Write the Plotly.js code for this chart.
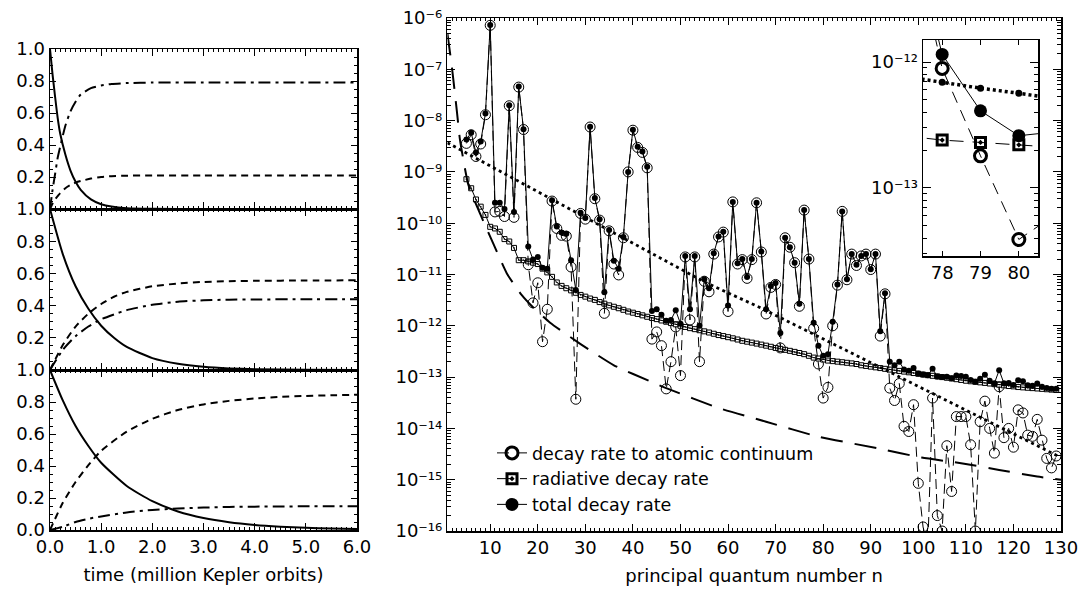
<!DOCTYPE html>
<html><head><meta charset="utf-8">
<script src="https://cdn.plot.ly/plotly-3.0.1.min.js"></script>
<style>html,body{margin:0;padding:0;background:#fff}#chart{width:1078px;height:590px}</style>
</head><body><div id="chart"></div>
<script>
// ---------- left panels: populations vs time (million Kepler orbits) ----------
const tTop = [0,0.05,0.1,0.15,0.2,0.3,0.4,0.5,0.6,0.8,1.0,1.2,1.5,2.0,3.0,4.0,6.0];
const solidTop = [1,0.84,0.70,0.57,0.47,0.34,0.24,0.17,0.12,0.06,0.03,0.015,0.005,0.001,0,0,0];
const dashTop = [0,0.035,0.06,0.08,0.10,0.13,0.15,0.165,0.175,0.19,0.2,0.205,0.208,0.21,0.21,0.21,0.21];
const dashdotTop = [0,0.12,0.22,0.32,0.39,0.52,0.61,0.67,0.715,0.755,0.772,0.781,0.787,0.79,0.791,0.791,0.791];

const tMid = [0,0.25,0.5,0.75,1,1.25,1.5,2,2.5,3,3.5,4,5,6];
const solidMid = [1,0.72,0.52,0.38,0.275,0.2,0.143,0.074,0.039,0.02,0.01,0.005,0.001,0];
const dashMid = [0,0.155,0.27,0.35,0.41,0.455,0.485,0.52,0.537,0.547,0.552,0.554,0.556,0.557];
const dashdotMid = [0,0.125,0.21,0.27,0.315,0.345,0.372,0.405,0.424,0.433,0.437,0.438,0.44,0.44];

const tBot = [0,0.25,0.5,0.75,1,1.5,2,2.5,3,3.5,4,4.5,5,5.5,6];
const solidBot = [1,0.81,0.65,0.525,0.42,0.275,0.18,0.116,0.075,0.049,0.032,0.021,0.0135,0.009,0.006];
const dashBot = [0,0.17,0.30,0.405,0.495,0.615,0.695,0.75,0.785,0.807,0.822,0.832,0.838,0.842,0.845];
const dashdotBot = [0,0.02,0.05,0.07,0.085,0.11,0.125,0.134,0.14,0.144,0.146,0.147,0.148,0.149,0.149];

// ---------- right panel: decay rates vs principal quantum number n ----------
const nVals = [];
for (let k = 5; k <= 129; k++) nVals.push(k);

const continuumRate = [
 3.6e-9,5.3e-9,2.0e-9,3.5e-9,1.3e-8,7.2e-7,1.66e-10,1.7e-10,1.35e-10,1.95e-8,       // 5-14
 1.3e-10,4.5e-8,6.7e-9,1.55e-11,2.8e-12,6.9e-12,4.9e-13,2.1e-12,2.7e-10,7.9e-11,      // 15-24
 5.8e-11,5.6e-11,1.4e-11,3.7e-14,1.55e-10,1.2e-10,7.5e-9,3.0e-10,1.15e-10,1.75e-12,   // 25-34
 7.1e-11,1.6e-11,9.8e-12,5.2e-11,1.0e-9,6.5e-9,3.0e-9,2.4e-9,1.2e-9,5.5e-13,          // 35-44
 7.6e-13,4.1e-13,5.9e-14,2.0e-13,9.5e-13,1.07e-13,2.2e-11,1.3e-12,2.2e-11,2.0e-13,    // 45-54
 7.4e-12,4.6e-12,2.5e-11,5.4e-11,6.7e-11,1.9e-12,2.6e-10,1.6e-11,1.95e-11,8.4e-12,    // 55-64
 1.95e-11,2.5e-10,2.75e-11,1.7e-12,5.6e-12,6.4e-12,3.7e-13,5.2e-11,3.4e-11,1.7e-11,   // 65-74
 2.4e-12,1.8e-10,2.0e-11,8.9e-13,1.8e-13,3.9e-14,6.3e-14,1.0e-12,6.2e-12,1.7e-10,     // 75-84
 7.9e-12,2.5e-11,1.5e-11,2.3e-11,2.5e-11,1.25e-11,2.5e-11,6.3e-13,4.2e-12,6.1e-14,    // 85-94
 3.5e-14,7.5e-14,1.1e-14,8.7e-15,2.9e-14,8.5e-16,1.2e-16,5e-17,3.9e-14,2e-16,         // 95-104
 1e-16,4.6e-15,5.9e-16,1.7e-14,1.7e-14,1.7e-14,4.8e-15,1e-16,1.35e-14,3.4e-14,        // 105-114
 1e-14,3.3e-15,6.5e-14,6.6e-15,1e-14,4.3e-15,2.3e-14,2.0e-14,7.4e-15,7e-15,           // 115-124
 1.5e-14,5.9e-15,2.6e-15,1.7e-15,2.9e-15];                                            // 125-129

const radiativeRate = [
 7.2e-10,4.8e-10,2.9e-10,2.1e-10,1.45e-10,8.5e-11,7.9e-11,6.8e-11,4.9e-11,4.4e-11,
 3.3e-11,1.9e-11,1.9e-11,1.8e-11,1.7e-11,1.6e-11,1.3e-11,1.1e-11,9e-12,7e-12,
 6e-12,5.4e-12,4.9e-12,4.4e-12,4e-12,3.7e-12,3.4e-12,3.2e-12,2.9e-12,2.7e-12,
 2.5e-12,2.35e-12,2.2e-12,2.05e-12,1.9e-12,1.8e-12,1.7e-12,1.6e-12,1.5e-12,1.42e-12,
 1.35e-12,1.27e-12,1.2e-12,1.13e-12,1.07e-12,1.0e-12,9.5e-13,9e-13,8.6e-13,8.2e-13,
 7.8e-13,7.4e-13,7e-13,6.6e-13,6.3e-13,6e-13,5.7e-13,5.4e-13,5.1e-13,4.9e-13,
 4.7e-13,4.5e-13,4.3e-13,4.1e-13,3.9e-13,3.7e-13,3.55e-13,3.4e-13,3.25e-13,3.1e-13,
 2.95e-13,2.8e-13,2.6e-13,2.4e-13,2.3e-13,2.2e-13,2.1e-13,2.05e-13,2e-13,1.95e-13,
 1.9e-13,1.85e-13,1.8e-13,1.7e-13,1.65e-13,1.6e-13,1.55e-13,1.5e-13,1.45e-13,1.4e-13,
 1.36e-13,1.32e-13,1.28e-13,1.24e-13,1.2e-13,1.16e-13,1.12e-13,1.09e-13,1.06e-13,1.03e-13,
 1.0e-13,9.7e-14,9.4e-14,9.1e-14,8.8e-14,8.5e-14,8.3e-14,8.1e-14,7.9e-14,7.7e-14,
 7.5e-14,7.3e-14,7.1e-14,6.9e-14,6.7e-14,6.6e-14,6.4e-14,6.3e-14,6.2e-14,6.1e-14,
 6e-14,5.9e-14,5.8e-14,5.7e-14,5.6e-14];

const totalRate = [
 4.3e-9,5.8e-9,2.4e-9,3.9e-9,1.38e-8,7.3e-7,2.5e-10,2.5e-10,1.9e-10,2.0e-8,
 1.66e-10,4.6e-8,6.8e-9,3.5e-11,1.95e-11,2.2e-11,1.35e-11,1.3e-11,2.8e-10,8.6e-11,
 6.6e-11,6.2e-11,1.9e-11,5.0e-12,1.6e-10,1.26e-10,7.6e-9,3.1e-10,1.2e-10,4.5e-12,
 7.4e-11,1.86e-11,1.3e-11,5.4e-11,1.0e-9,6.6e-9,3.1e-9,2.5e-9,1.26e-9,1.95e-12,
 2.1e-12,1.65e-12,1.25e-12,1.3e-12,2.0e-12,1.1e-12,2.3e-11,2.1e-12,2.3e-11,1.0e-12,
 8.1e-12,5.4e-12,2.6e-11,5.5e-11,6.8e-11,2.5e-12,2.6e-10,1.66e-11,2.0e-11,8.9e-12,
 2.0e-11,2.5e-10,2.8e-11,2.1e-12,6.0e-12,6.8e-12,7.2e-13,5.2e-11,3.4e-11,1.7e-11,
 2.7e-12,1.8e-10,2.0e-11,1.15e-12,4.1e-13,2.6e-13,2.8e-13,1.2e-12,6.4e-12,1.7e-10,
 8.1e-12,2.5e-11,1.55e-11,2.3e-11,2.5e-11,1.26e-11,2.5e-11,7.8e-13,4.3e-12,2.0e-13,
 1.7e-13,2.0e-13,1.4e-13,1.33e-13,1.5e-13,1.17e-13,1.12e-13,1.09e-13,1.45e-13,1.03e-13,
 1.0e-13,1.02e-13,9.5e-14,1.08e-13,1.05e-13,1.02e-13,8.8e-14,8.1e-14,9.3e-14,1.11e-13,
 8.5e-14,7.6e-14,1.36e-13,7.6e-14,7.7e-14,7.0e-14,8.7e-14,8.3e-14,6.9e-14,6.8e-14,
 7.5e-14,6.5e-14,6.1e-14,5.9e-14,5.9e-14];

// dotted fit line
const dottedN = [1,41,55,67,79,92,119,130];
const dottedRate = [3.7e-9,3.6e-11,7.2e-12,2.2e-12,6.2e-13,1.55e-13,8.7e-15,2.7e-15];
// long-dashed curve
const longDashN = [1,2,3,3.65,5.4,7.85,10.65,13.5,16.6,19,22.6,29,36,44,47,58,68,79,92,100.7,109,117,125,130];
const longDashRate = [5e-7,1e-7,1.5e-8,4.2e-9,5.6e-10,1.55e-10,4e-11,1.05e-11,4e-12,2.3e-12,1.15e-12,4.4e-13,1.7e-13,8e-14,6.1e-14,2.5e-14,1.35e-14,6.9e-15,4e-15,2.7e-15,2.1e-15,1.55e-15,1.15e-15,1e-15];

// inset (n = 77..81)
const insetN = [77,78,79,80,81];
const insetDotted = [7.7e-13,6.9e-13,6.2e-13,5.65e-13,5.1e-13];

const xTicksMain = [10,20,30,40,50,60,70,80,90,100,110,120,130];
const yDecades = [-16,-15,-14,-13,-12,-11,-10,-9,-8,-7,-6];

// ---------- build ----------
const SUP = {'-':'\u207B','0':'\u2070','1':'\u00B9','2':'\u00B2','3':'\u00B3','4':'\u2074','5':'\u2075','6':'\u2076','7':'\u2077','8':'\u2078','9':'\u2079'};
const powLabel = e => '10' + String(e).split('').map(c => SUP[c]).join('');

const i0 = nVals.indexOf(77), i1 = nVals.indexOf(81) + 1;
const insCont = continuumRate.slice(i0, i1);
const insRad = radiativeRate.slice(i0, i1);
const insTot = totalRate.slice(i0, i1);

const K = '#000';
const FONT = {family: 'DejaVu Sans, sans-serif', size: 18, color: K};
const LFONT = {family: 'DejaVu Sans, sans-serif', size: 17.5, color: K};
const DASH = '7px,5px';
const DASHDOT = '12px,5px,3px,5px';

function leftSet(t, s, d, dd, ax) {
  return [
    {x: t, y: s, xaxis: 'x' + ax, yaxis: 'y' + ax, mode: 'lines', line: {color: K, width: 2, shape: 'spline', smoothing: 0.6}, showlegend: false, hoverinfo: 'skip'},
    {x: t, y: d, xaxis: 'x' + ax, yaxis: 'y' + ax, mode: 'lines', line: {color: K, width: 2, dash: DASH, shape: 'spline', smoothing: 0.6}, showlegend: false, hoverinfo: 'skip'},
    {x: t, y: dd, xaxis: 'x' + ax, yaxis: 'y' + ax, mode: 'lines', line: {color: K, width: 2, dash: DASHDOT, shape: 'spline', smoothing: 0.6}, showlegend: false, hoverinfo: 'skip'}
  ];
}

const traces = [].concat(
  leftSet(tTop, solidTop, dashTop, dashdotTop, ''),
  leftSet(tMid, solidMid, dashMid, dashdotMid, '2'),
  leftSet(tBot, solidBot, dashBot, dashdotBot, '3'),
  [
    {x: longDashN, y: longDashRate, xaxis: 'x4', yaxis: 'y4', mode: 'lines', line: {color: K, width: 2, dash: '22px,12px', shape: 'spline', smoothing: 0.5}, showlegend: false},
    {x: dottedN, y: dottedRate, xaxis: 'x4', yaxis: 'y4', mode: 'lines', line: {color: K, width: 2.8, dash: '3px,3.5px'}, showlegend: false},
    {x: nVals, y: continuumRate, xaxis: 'x4', yaxis: 'y4', mode: 'lines+markers', name: 'decay rate to atomic continuum',
     line: {color: K, width: 1, dash: '10px,5px'}, marker: {symbol: 'circle-open', size: 10, color: K, line: {width: 1}}, showlegend: false},
    {x: nVals, y: radiativeRate, xaxis: 'x4', yaxis: 'y4', mode: 'lines+markers', name: 'radiative decay rate',
     line: {color: K, width: 1}, marker: {symbol: 'square-open-dot', size: 5, color: K, line: {width: 1}}, showlegend: false},
    {x: nVals, y: totalRate, xaxis: 'x4', yaxis: 'y4', mode: 'lines+markers', name: 'total decay rate',
     line: {color: K, width: 1}, marker: {symbol: 'circle', size: 6, color: K}, showlegend: false},
    // inset
    {x: insetN, y: insetDotted, xaxis: 'x5', yaxis: 'y5', mode: 'lines+markers', line: {color: K, width: 3.5, dash: '3px,3px'}, marker: {symbol: 'circle', size: 7, color: K}, showlegend: false},
    {x: insetN, y: insCont, xaxis: 'x5', yaxis: 'y5', mode: 'lines+markers', name: 'decay rate to atomic continuum',
     line: {color: K, width: 1, dash: '12px,8px'}, marker: {symbol: 'circle-open', size: 12, color: K, line: {width: 3}}},
    {x: insetN, y: insRad, xaxis: 'x5', yaxis: 'y5', mode: 'lines+markers', name: 'radiative decay rate',
     line: {color: K, width: 1, dash: '14px,9px'}, marker: {symbol: 'square-open-dot', size: 10, color: K, line: {width: 3}}},
    {x: insetN, y: insTot, xaxis: 'x5', yaxis: 'y5', mode: 'lines+markers', name: 'total decay rate',
     line: {color: K, width: 1}, marker: {symbol: 'circle', size: 13, color: K}}
  ]
);

const W = 1078, H = 590;
const px = v => v / W, py = v => 1 - v / H;

function axBase(extra) {
  return Object.assign({showline: true, linecolor: K, linewidth: 1.5, mirror: 'ticks', ticks: 'inside', tickcolor: K, tickwidth: 1,
    showgrid: false, zeroline: false, fixedrange: true, tickfont: FONT, automargin: false, ticklabeloverflow: 'allow'}, extra);
}
const leftX = [px(50), px(357)];
const leftXTicks = [0,1,2,3,4,5,6];
function leftXAxis(anchor, labels, title) {
  const a = axBase({domain: leftX, range: [0, 6], anchor: anchor, tickmode: 'array', tickvals: leftXTicks, ticklen: 7,
    showticklabels: labels, tickformat: '.1f', minor: {dtick: 0.1, tick0: 0, ticklen: 3, ticks: 'inside', tickcolor: K}});
  if (title) a.title = {text: title, font: FONT, standoff: 12};
  return a;
}
function leftYAxis(anchor, dom, vals) {
  return axBase({domain: dom, range: [0, 1], anchor: anchor, tickmode: 'array', tickvals: vals, ticklen: 6, tickformat: '.1f',
    minor: {dtick: 0.05, tick0: 0, ticklen: 3, ticks: 'inside', tickcolor: K}});
}

const minorLog = [];
for (let e = -17; e <= -6; e++) for (let m = 2; m <= 9; m++) minorLog.push(m * Math.pow(10, e));

const layout = {
  width: W, height: H, margin: {l: 0, r: 0, t: 0, b: 0}, paper_bgcolor: '#fff', plot_bgcolor: '#fff',
  font: FONT, showlegend: true,
  legend: {x: px(492), y: py(435), xanchor: 'left', yanchor: 'top', bgcolor: 'rgba(0,0,0,0)', font: LFONT, tracegroupgap: 0},
  xaxis: leftXAxis('y', false),
  yaxis: leftYAxis('x', [py(209), py(49)], [0.2,0.4,0.6,0.8,1.0]),
  xaxis2: leftXAxis('y2', false),
  yaxis2: leftYAxis('x2', [py(370), py(209)], [0.2,0.4,0.6,0.8,1.0]),
  xaxis3: leftXAxis('y3', true, 'time (million Kepler orbits)'),
  yaxis3: leftYAxis('x3', [py(530), py(370)], [0,0.2,0.4,0.6,0.8,1.0]),
  xaxis4: axBase({domain: [px(447.4), px(1061)], range: [1, 130], anchor: 'y4', tickmode: 'array', tickvals: xTicksMain, ticklen: 7,
    minor: {dtick: 1, tick0: 0, ticklen: 3, ticks: 'inside', tickcolor: K},
    title: {text: 'principal quantum number n', font: FONT, standoff: 12}}),
  yaxis4: axBase({domain: [py(531), py(18)], type: 'log', range: [-16, -6], anchor: 'x4', tickmode: 'array',
    tickvals: yDecades.map(e => Math.pow(10, e)), ticktext: yDecades.map(powLabel), ticklen: 8,
    minor: {tickmode: 'array', tickvals: minorLog, ticklen: 4, ticks: 'inside', tickcolor: K}}),
  xaxis5: axBase({domain: [px(923), px(1038)], range: [77.5, 80.5], anchor: 'y5', tickmode: 'array', tickvals: [78,79,80], ticklen: 5}),
  yaxis5: axBase({domain: [py(256), py(40)], type: 'log', range: [-13.54, -11.825], anchor: 'x5', tickmode: 'array',
    tickvals: [1e-13, 1e-12], ticktext: [powLabel(-13), powLabel(-12)], ticklen: 8,
    minor: {tickmode: 'array', tickvals: minorLog, ticklen: 4, ticks: 'inside', tickcolor: K}})
};

Plotly.newPlot('chart', traces, layout, {displayModeBar: false, staticPlot: true});
</script></body></html>
